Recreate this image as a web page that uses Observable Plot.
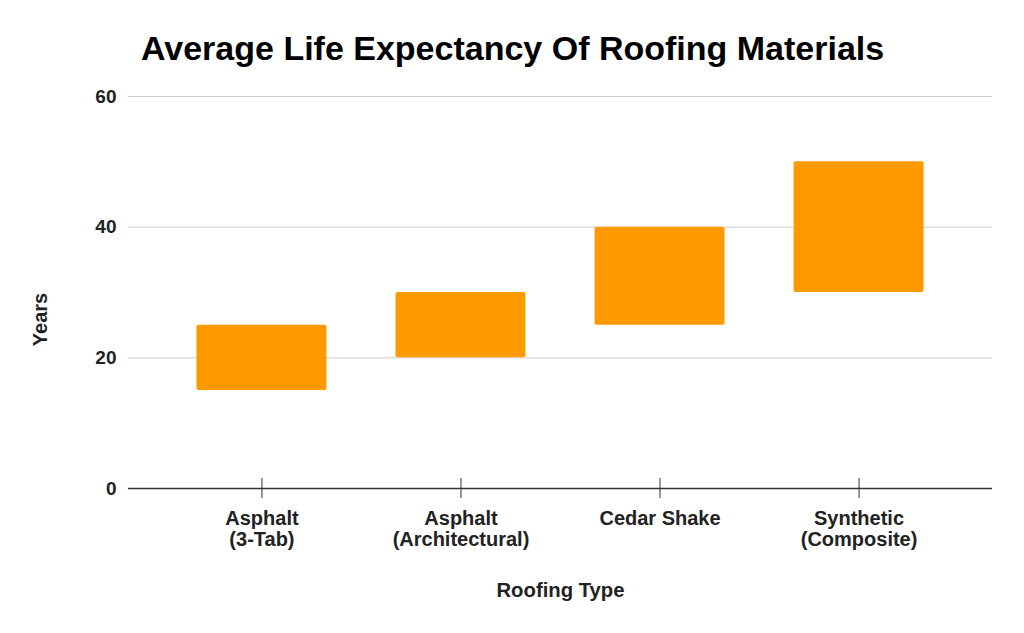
<!DOCTYPE html>
<html>
<head>
<meta charset="utf-8">
<script src="https://cdn.jsdelivr.net/npm/d3@7"></script>
<script src="https://cdn.jsdelivr.net/npm/@observablehq/plot@0.6"></script>
<style>
  html, body { margin: 0; padding: 0; background: #fff; }
  #wrap { position: relative; width: 1024px; height: 633px; font-family: "Liberation Sans", Arial, sans-serif; }
  #title { position: absolute; left: 141px; top: 31px; font-size: 34px; line-height: 1; font-weight: bold; color: #000; white-space: nowrap; }
  #chart { position: absolute; left: 0; top: 0; }
</style>
</head>
<body>
<div id="wrap">
  <div id="chart"></div>
  <div id="title">Average Life Expectancy Of Roofing Materials</div>
</div>
<script>
const categories = ["Asphalt\n(3-Tab)", "Asphalt\n(Architectural)", "Cedar Shake", "Synthetic\n(Composite)"];
const minYears = [15, 20, 25, 30];
const maxYears = [25, 30, 40, 50];
const yTicks = [0, 20, 40, 60];
const xLabel = "Roofing Type";
const yLabel = "Years";

const data = categories.map((c, i) => ({type: c, lo: minYears[i], hi: maxYears[i]}));

const chart = Plot.plot({
  width: 1024,
  height: 633,
  marginTop: 96,
  marginBottom: 145,
  marginLeft: 128,
  marginRight: 32,
  style: {fontFamily: "'Liberation Sans', Arial, sans-serif", color: "#222", background: "#fff"},
  x: {domain: categories, paddingInner: 0.347, paddingOuter: 0.344, round: false, axis: null},
  y: {domain: [0, 60], axis: null},
  marks: [
    Plot.gridY(yTicks.filter(d => d > 0), {stroke: "#cccccc", strokeOpacity: 1, strokeWidth: 1}),
    Plot.barY(data, {x: "type", y1: "lo", y2: "hi", fill: "#ff9900", rx: 2}),
    Plot.ruleY([0], {stroke: "#333", strokeWidth: 1.5}),
    Plot.axisY(yTicks, {tickSize: 0, tickPadding: 12, fontSize: 19, fontWeight: "bold", fill: "#222", label: null}),
    Plot.axisX({tickSize: 20, dy: -10, tickFormat: () => "", stroke: "#333", label: null}),
    Plot.axisX({tickSize: 0, tickPadding: 22, fontSize: 20, fontWeight: "bold", fill: "#222", lineHeight: 1.05, label: null}),
    Plot.text([xLabel], {frameAnchor: "bottom", dy: 102, lineAnchor: "middle", fontSize: 20.3, fontWeight: "bold", fill: "#222"}),
    Plot.text([yLabel], {frameAnchor: "left", dx: -87.5, dy: 27, rotate: -90, lineAnchor: "middle", textAnchor: "middle", fontSize: 20, fontWeight: "bold", fill: "#222"})
  ]
});
document.getElementById("chart").appendChild(chart);
</script>
</body>
</html>
